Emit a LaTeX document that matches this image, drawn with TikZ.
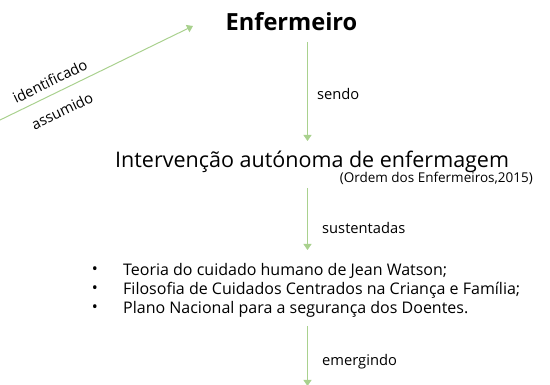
\documentclass[tikz,border=0pt]{standalone}
\usepackage{fontspec}
\setmainfont{Open Sans}
\usetikzlibrary{arrows.meta}
\definecolor{arrgreen}{HTML}{A9D18E}
\begin{document}
\begin{tikzpicture}[x=1pt,y=-1pt,
  conn/.style={draw=arrgreen,line width=1pt,-{Triangle[width=8pt,length=6pt]}},
  lbl/.style={font=\fontsize{14.7}{17}\selectfont,anchor=west,inner sep=0pt},
  blt/.style={font=\fontsize{16}{19}\selectfont,anchor=west,inner sep=0pt}]
\useasboundingbox (0,0) rectangle (550,385);
\node[font=\fontsize{23.6}{28}\selectfont\bfseries,inner sep=0pt] (enf) at (291.5,22) {Enfermeiro};
\node[font=\fontsize{21.5}{26}\selectfont,inner sep=0pt,anchor=west] (int) at (115,162) {Intervenção autónoma de enfermagem};
\node[font=\fontsize{13.5}{16}\selectfont,inner sep=0pt,anchor=east] (ref) at (533,178) {(Ordem dos Enfermeiros,2015)};
\node[blt] (b1t) at (123,271) {Teoria do cuidado humano de Jean Watson;};
\node[blt] (b2t) at (123,290) {Filosofia de Cuidados Centrados na Criança e Família;};
\node[blt] (b3t) at (123,309) {Plano Nacional para a segurança dos Doentes.};
\foreach \y/\n in {271/b1,290/b2,309/b3}
  \node[blt,anchor=center] (\n) at (95,\y) {•};
\coordinate (d0) at (-2,121);
\coordinate (d1) at (193,26);
\coordinate (a1s) at (307.5,42);
\coordinate (a1e) at (307.5,141);
\coordinate (a2s) at (307.5,188);
\coordinate (a2e) at (307.5,250);
\coordinate (a3s) at (307.5,326);
\coordinate (a3e) at (307.5,386);
\draw[conn] (d0) -- (d1);
\draw[conn] (a1s) -- (a1e);
\draw[conn] (a2s) -- (a2e);
\draw[conn] (a3s) -- (a3e);
\node[lbl] (l1) at (317,94) {sendo};
\node[lbl] (l2) at (322,228) {sustentadas};
\node[lbl] (l3) at (322,362) {emergindo};
\node[font=\fontsize{14.7}{17}\selectfont,inner sep=0pt,rotate=26] (l4) at (50,81) {identificado};
\node[font=\fontsize{14.7}{17}\selectfont,inner sep=0pt,rotate=26] (l5) at (62,111) {assumido};
\end{tikzpicture}
\end{document}
